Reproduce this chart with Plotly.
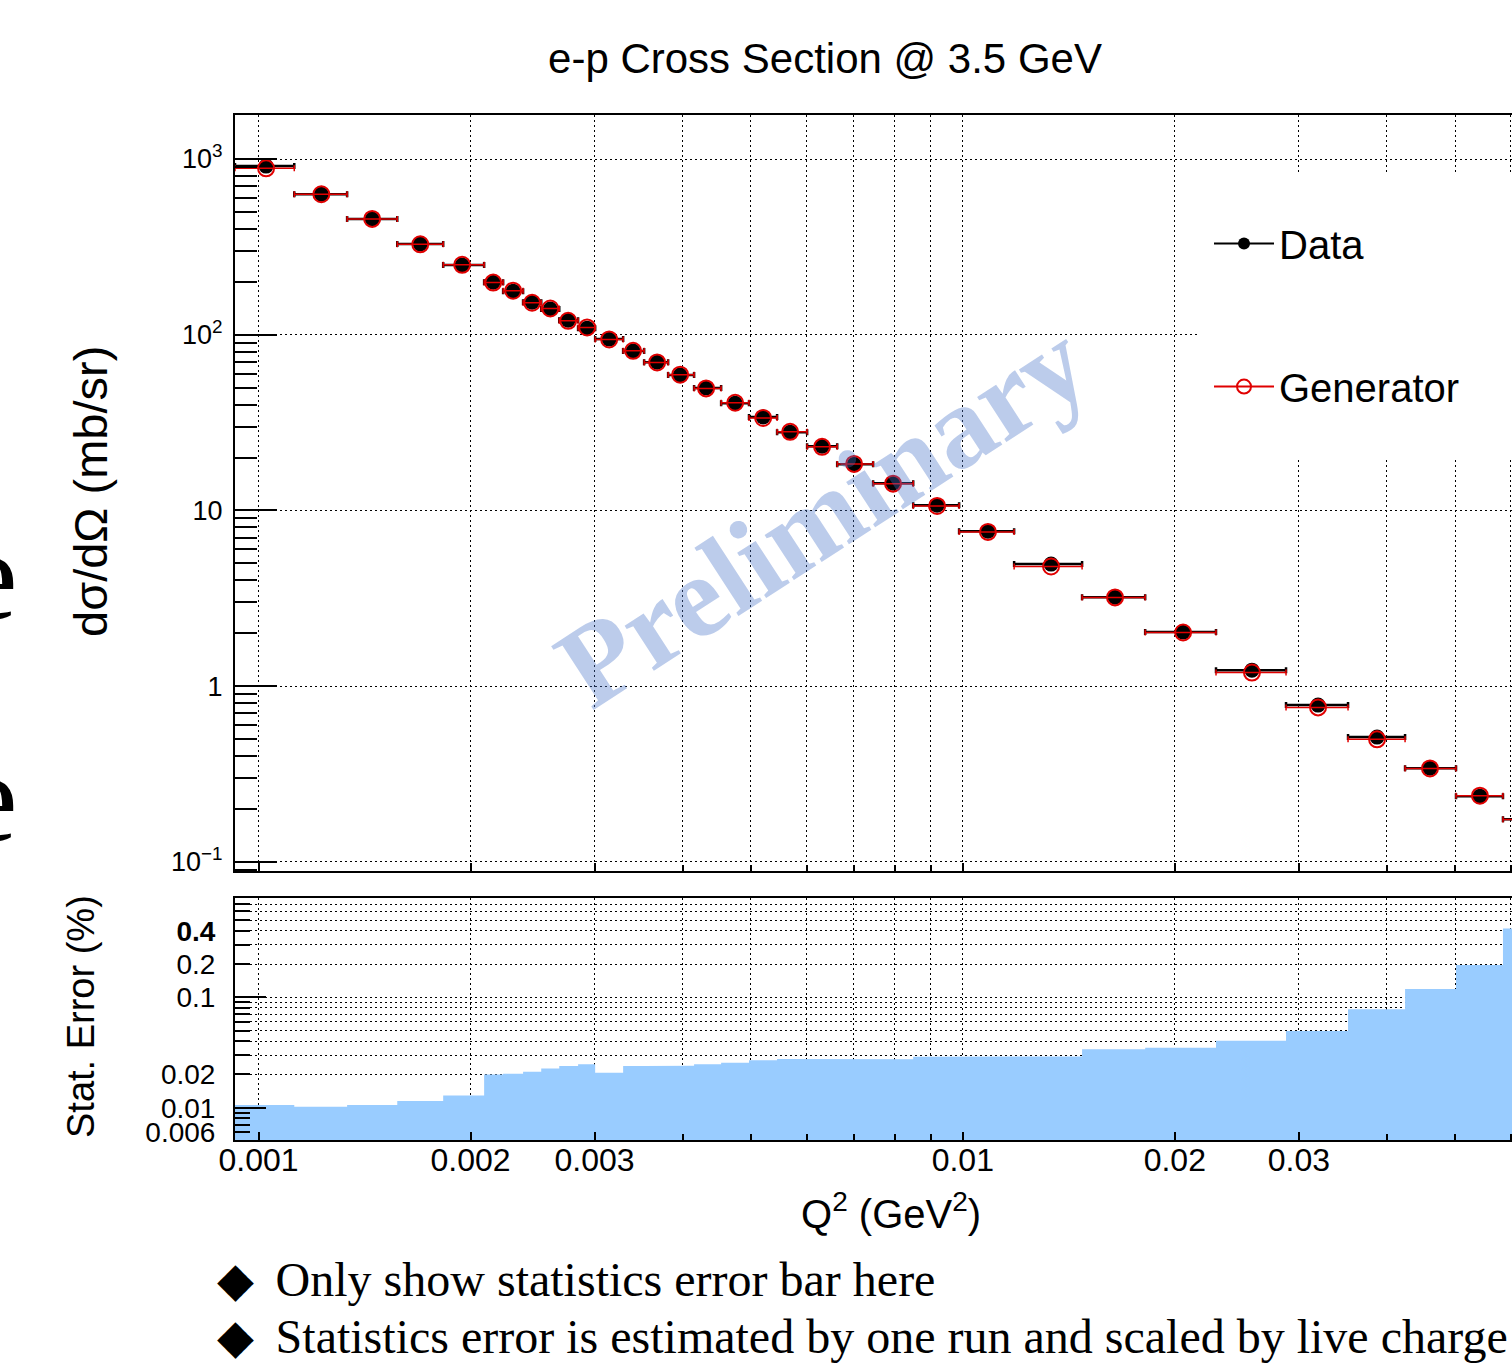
import numpy as np
import plotly.graph_objects as go

# ---------------- data ----------------
# Q^2 bin centres (GeV^2)
q2 = [0.001025, 0.001228, 0.001450, 0.001697, 0.001946, 0.002154, 0.002299,
      0.002446, 0.002596, 0.002752, 0.002928, 0.003147, 0.003403, 0.003681,
      0.003969, 0.004320, 0.004751, 0.005206, 0.005686, 0.006312, 0.007009,
      0.007961, 0.009194, 0.010857, 0.013345, 0.016449, 0.020549, 0.025737,
      0.031946, 0.038742, 0.046060, 0.054235, 0.06333]
# Q^2 bin edges (GeV^2)
q2_edges = [0.000926, 0.001124, 0.001336, 0.001574, 0.001829, 0.002091,
            0.002225, 0.002375, 0.002520, 0.002673, 0.002843, 0.003006,
            0.003294, 0.003528, 0.003816, 0.004154, 0.004538, 0.004971,
            0.005449, 0.006011, 0.006632, 0.007459, 0.008503, 0.009880,
            0.011827, 0.014770, 0.018153, 0.022884, 0.028771, 0.035237,
            0.042459, 0.050155, 0.058477, 0.0681]
# d sigma / d Omega (mb/sr)
xs_data = [911, 631, 455, 328, 249, 199, 177, 153, 140, 121, 109, 94.4, 80.7,
           69.8, 58.9, 49.7, 40.8, 34.0, 27.9, 23.2, 18.3, 14.3, 10.7, 7.62,
           4.95, 3.21, 2.03, 1.233, 0.780, 0.513, 0.3415, 0.2366, 0.175]
xs_gen = [885, 630, 456, 327, 250, 198, 178, 152, 141, 120, 110, 94.0, 81.0,
          69.5, 59.2, 49.5, 41.0, 33.6, 28.0, 23.0, 18.4, 14.2, 10.6, 7.55,
          4.80, 3.20, 2.02, 1.195, 0.757, 0.498, 0.340, 0.238, 0.174]
# statistical error (%)
stat_err = [0.0106, 0.0102, 0.0106, 0.0115, 0.0129, 0.0200, 0.0203, 0.0212,
            0.0227, 0.0239, 0.0247, 0.0207, 0.0239, 0.0239, 0.0240, 0.0247,
            0.0256, 0.0269, 0.0276, 0.0277, 0.0276, 0.0275, 0.0290, 0.0290,
            0.0291, 0.0338, 0.0350, 0.0405, 0.0495, 0.0778, 0.119, 0.196,
            0.421]

x_tickvals = [0.001, 0.002, 0.003, 0.01, 0.02, 0.03]
x_ticktext = ["0.001", "0.002", "0.003", "0.01", "0.02", "0.03"]
x_minorvals = [0.004, 0.005, 0.006, 0.007, 0.008, 0.009, 0.04, 0.05, 0.06]
y_tickvals = [0.1, 1, 10, 100, 1000]
y_ticktext = ["10<sup>\u22121</sup>", "1", "10", "10<sup>2</sup>", "10<sup>3</sup>"]
y_minorvals = [m * d for d in (0.01, 0.1, 1, 10, 100) for m in range(2, 10)
               if 0.0887 < m * d < 1778]
y2_tickvals = [0.006, 0.01, 0.02, 0.1, 0.2, 0.4]
y2_ticktext = ["0.006", "0.01", "0.02", "0.1", "0.2", "<b>0.4</b>"]
y2_minorvals = [0.007, 0.008, 0.009, 0.03, 0.04, 0.05, 0.06, 0.07, 0.08,
                0.09, 0.3, 0.5, 0.6, 0.7]
y2_longticks = [0.01, 0.1]

# ---------------- derived ----------------
err_lo = [c - lo for c, lo in zip(q2, q2_edges[:-1])]
err_hi = [hi - c for c, hi in zip(q2, q2_edges[1:])]
floor = 0.001
fx, fy = [q2_edges[0]], [floor]
for i, v in enumerate(stat_err):
    fx += [q2_edges[i], q2_edges[i + 1]]
    fy += [v, v]
fx += [q2_edges[-1]]
fy += [floor]

SANS = "Liberation Sans, Arial, Helvetica, sans-serif"
SERIF = "Liberation Serif, Times New Roman, serif"
RED = "#E00000"

fig = go.Figure()
fig.add_trace(go.Scatter(x=fx, y=fy, xaxis="x2", yaxis="y2", mode="lines",
                         fill="toself", fillcolor="#99CCFF",
                         line=dict(width=0, color="#99CCFF"),
                         showlegend=False, hoverinfo="skip"))
fig.add_trace(go.Scatter(x=[None], y=[None], xaxis="x2", yaxis="y3",
                         showlegend=False, hoverinfo="skip"))
fig.add_trace(go.Scatter(
    x=q2, y=xs_data, mode="markers", name="Data", showlegend=False,
    marker=dict(color="black", size=15),
    error_x=dict(type="data", symmetric=False, array=err_hi,
                 arrayminus=err_lo, color="black", thickness=2.5, width=3)))
fig.add_trace(go.Scatter(
    x=q2, y=xs_gen, mode="markers", name="Generator", showlegend=False,
    marker=dict(symbol="circle-open", color=RED, size=16,
                line=dict(width=2, color=RED)),
    error_x=dict(type="data", symmetric=False, array=err_hi,
                 arrayminus=err_lo, color=RED, thickness=1.5, width=3)))
# legend entries
fig.add_trace(go.Scatter(x=[None], y=[None], mode="lines+markers", name="Data",
                         legendgroup="d", line=dict(color="black", width=2),
                         marker=dict(color="black", size=12)))
fig.add_trace(go.Scatter(x=[None], y=[None], mode="lines+markers",
                         name="Generator", legendgroup="g",
                         line=dict(color=RED, width=2),
                         marker=dict(symbol="circle-open", color=RED, size=14,
                                     line=dict(width=2, color=RED))))

GRID = dict(gridcolor="black", gridwidth=1, griddash="2px,3px")
xrange_ = [np.log10(0.000926), -1.2202]


def xaxis_common(labels):
    return dict(type="log", range=xrange_, tickmode="array",
                tickvals=x_tickvals, ticktext=x_ticktext,
                showticklabels=labels, ticks="inside", ticklen=8,
                tickwidth=1.5, tickcolor="black", showline=True,
                linecolor="black", linewidth=2, mirror=True, showgrid=True,
                **GRID, zeroline=False, automargin=False,
                tickfont=dict(family=SANS, size=32, color="black"),
                ticklabelstandoff=-9,
                minor=dict(tickmode="array", tickvals=x_minorvals,
                           ticks="inside", ticklen=6, tickwidth=1.5,
                           tickcolor="black", showgrid=True, **GRID))


fig.update_layout(
    width=1512, height=1363,
    margin=dict(l=235, r=0, t=115, b=223),
    paper_bgcolor="white", plot_bgcolor="white",
    font=dict(family=SANS, color="black"),
    title=dict(text="e-p Cross Section @ 3.5 GeV", xref="container",
               yref="container", x=825 / 1512, y=1 - 58 / 1363,
               xanchor="center", yanchor="middle",
               font=dict(family=SANS, size=42, color="black")),
    xaxis=dict(anchor="y", domain=[0, 1], **xaxis_common(False)),
    xaxis2=dict(anchor="y2", domain=[0, 1], matches="x", **xaxis_common(True)),
    yaxis=dict(anchor="x", domain=[0.26244, 1], type="log",
               range=[-1.052, 3.2504], tickmode="array", tickvals=y_tickvals,
               ticktext=y_ticktext, ticks="inside", ticklen=42, tickwidth=1.5,
               tickcolor="black", showline=True, linecolor="black",
               linewidth=2, mirror=False, showgrid=True, **GRID,
               zeroline=False, automargin=False, ticklabelstandoff=5,
               tickfont=dict(family=SANS, size=27, color="black"),
               minor=dict(tickmode="array", tickvals=y_minorvals,
                          ticks="inside", ticklen=22, tickwidth=1.5,
                          tickcolor="black", showgrid=False)),
    yaxis2=dict(anchor="x2", domain=[0, 0.2361], type="log",
                range=[-2.2926, -0.1005], tickmode="array",
                tickvals=y2_tickvals, ticktext=y2_ticktext, ticks="inside",
                ticklen=15, tickwidth=1.5, tickcolor="black", showline=True,
                linecolor="black", linewidth=2, mirror=False, showgrid=True,
                **GRID, zeroline=False, automargin=False,
                ticklabelstandoff=12,
                tickfont=dict(family=SANS, size=28, color="black"),
                minor=dict(tickmode="array", tickvals=y2_minorvals,
                           ticks="inside", ticklen=15, tickwidth=1.5,
                           tickcolor="black", showgrid=True, **GRID)),
    yaxis3=dict(anchor="x2", overlaying="y2", side="left", type="log",
                range=[-2.2926, -0.1005], tickmode="array",
                tickvals=y2_longticks, showticklabels=False, ticks="inside",
                ticklen=31, tickwidth=1.5, tickcolor="black", showgrid=False,
                showline=False, zeroline=False, automargin=False),
    legend=dict(x=0.7596 + 4 / 1277, y=0.9024 + 4 / 1025, xanchor="left",
                yanchor="top", bgcolor="rgba(0,0,0,0)", borderwidth=0,
                font=dict(family=SANS, size=40, color="black"),
                tracegroupgap=88, itemwidth=60, itemsizing="trace"),
    showlegend=True,
)

# white legend box (hides the grid behind the legend, as in the reference)
fig.add_shape(type="rect", xref="paper", yref="paper",
              x0=(1200 - 235) / 1277, x1=1.0,
              y0=(1140 - 460) / 1025, y1=(1140 - 172) / 1025,
              fillcolor="white", line=dict(width=0), layer="above")

ann = []
# axis titles
ann.append(dict(text="d\u03c3/d\u03a9 (mb/sr)", x=(90 - 235) / 1277,
                y=(1140 - 492) / 1025, textangle=-90,
                font=dict(family=SANS, size=47, color="black")))
ann.append(dict(text="Stat. Error (%)", x=(81 - 235) / 1277,
                y=(1140 - 1017) / 1025, textangle=-90,
                font=dict(family=SANS, size=38, color="black")))
ann.append(dict(text="Q<sup>2</sup> (GeV<sup>2</sup>)", x=(891 - 235) / 1277,
                y=(1140 - 1211) / 1025,
                font=dict(family=SANS, size=40, color="black")))
# watermark
ann.append(dict(text="<b>Preliminary</b>", x=(822 - 235) / 1277,
                y=(1140 - 514) / 1025, textangle=-33,
                font=dict(family=SERIF, size=117,
                          color="rgba(70,115,200,0.36)")))
# slide text around the chart
ann.append(dict(text="\u25c6\u2009 Only show statistics error bar here",
                x=(215 - 235) / 1277, y=(1140 - 1279) / 1025,
                xanchor="left",
                font=dict(family=SERIF, size=48, color="black")))
ann.append(dict(text="\u25c6\u2009 Statistics error is estimated by one run and scaled by live charge",
                x=(215 - 235) / 1277, y=(1140 - 1336) / 1025,
                xanchor="left",
                font=dict(family=SERIF, size=48, color="black")))
for yc in (575, 797):
    ann.append(dict(text="e", x=(20 - 235) / 1277, y=(1140 - yc) / 1025,
                    xanchor="right",
                    font=dict(family=SERIF, size=130, color="black")))
for a in ann:
    a.setdefault("xref", "paper")
    a.setdefault("yref", "paper")
    a.setdefault("showarrow", False)
    a.setdefault("xanchor", "center")
    a.setdefault("yanchor", "middle")
fig.update_layout(annotations=ann)

fig.write_html("out.html")
